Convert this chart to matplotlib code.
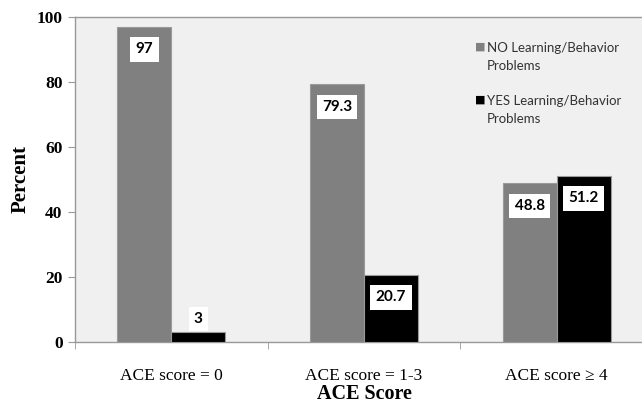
import matplotlib
matplotlib.use("Agg")
import matplotlib.pyplot as plt
import numpy as np

# data
categories = ["ACE score = 0", "ACE score = 1-3", "ACE score \u2265 4"]
no_problems = [97, 79.3, 48.8]
yes_problems = [3, 20.7, 51.2]
series_names = ["NO Learning/Behavior\nProblems", "YES Learning/Behavior\nProblems"]
series_colors = ["#808080", "#000000"]
y_ticks = [0, 20, 40, 60, 80, 100]

fig = plt.figure(figsize=(6.42, 4.05), dpi=100)
ax = fig.add_axes([0.117, 0.156, 0.9, 0.802])
ax.set_facecolor("#f0f0f0")

x = np.arange(len(categories))
w = 0.28
for i, vals in enumerate([no_problems, yes_problems]):
    xs = x + (i - 0.5) * w
    ax.bar(xs, vals, width=w, color=series_colors[i], edgecolor="#9a9a9a", linewidth=0.8, zorder=3)
    # data labels in white boxes
    for xi, v in zip(xs, vals):
        ly = v - 7.0 if v > 10 else v + 4
        ax.text(xi, ly, f"{v:g}", ha="center", va="center", fontsize=11,
                fontweight="bold", family="Lato", zorder=5,
                bbox=dict(boxstyle="square,pad=0.35", fc="white", ec="none"))

ax.set_xlim(-0.5, 2.5)
ax.set_ylim(0, 100)
ax.set_yticks(y_ticks)
ax.set_yticklabels([str(t) for t in y_ticks], family="Liberation Serif",
                   fontweight="bold", fontsize=12.5)
ax.set_xticks(x)
ax.set_xticklabels(categories, family="Liberation Serif", fontsize=12.5)
ax.set_xticks([-0.5, 0.5, 1.5, 2.5], minor=True)
ax.tick_params(axis="x", which="major", length=0, pad=19)
ax.tick_params(axis="x", which="minor", length=5, color="#999999")
ax.tick_params(axis="y", length=5, color="#999999", pad=4)

for s in ["top", "left", "bottom"]:
    ax.spines[s].set_color("#999999")
    ax.spines[s].set_linewidth(1.0)
ax.spines["right"].set_visible(False)

ax.set_ylabel("Percent", family="Liberation Serif", fontweight="bold", fontsize=15, labelpad=4)
ax.set_xlabel("ACE Score", family="Liberation Serif", fontweight="bold", fontsize=14.5, labelpad=0)

# legend drawn by hand, square aligned with first line
leg_y = [0.908, 0.745]
for name, col, yy in zip(series_names, series_colors, leg_y):
    ax.text(0.692, yy, "\u25a0", color=col, fontsize=8, family="DejaVu Sans",
            transform=ax.transAxes, va="center", ha="left")
    ax.text(0.712, yy + 0.014, name, fontsize=9.5, family="Lato", color="#333333",
            transform=ax.transAxes, va="top", ha="left", linespacing=1.6)

fig.savefig("out.png", dpi=100)
